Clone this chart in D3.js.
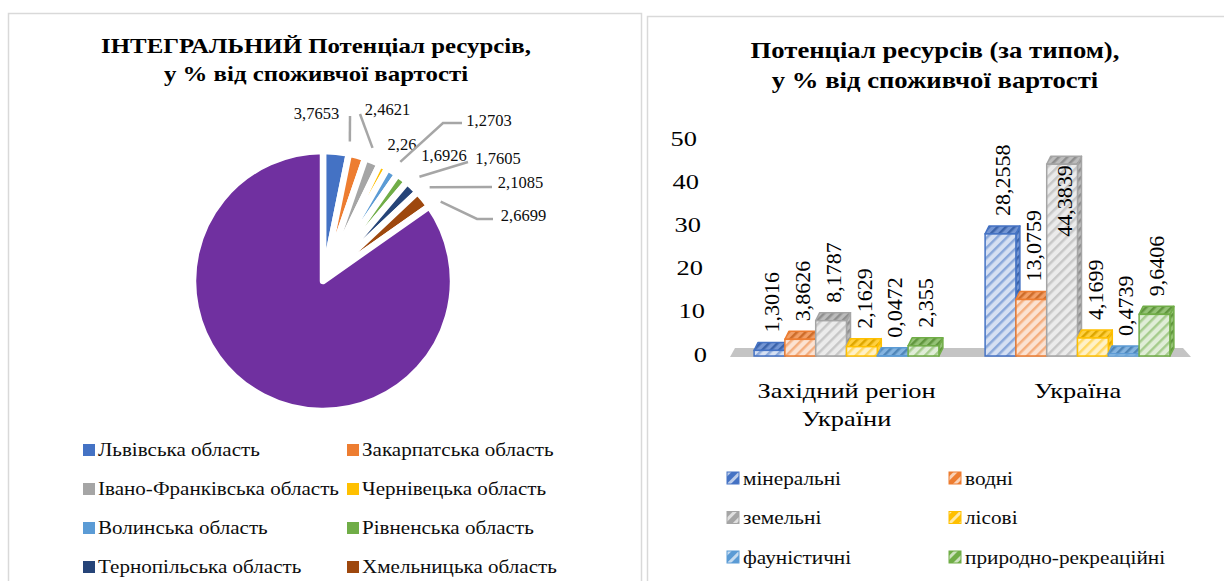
<!DOCTYPE html>
<html><head><meta charset="utf-8">
<script src="https://cdn.jsdelivr.net/npm/d3@7"></script>
<style>body{margin:0;background:#fff} svg{display:block} text{font-family:"Liberation Serif","Times New Roman",serif}</style>
</head><body><svg id="c" width="1224" height="581"></svg>
<script>
// ---------- DATA ----------
const pieTitle = ["ІНТЕГРАЛЬНИЙ Потенціал ресурсів,", "у % від споживчої вартості"];
const pieNames = ["Львівська область","Закарпатська область","Івано-Франківська область","Чернівецька область","Волинська область","Рівненська область","Тернопільська область","Хмельницька область","Україна"];
const pieValues = [3.7653, 2.4621, 2.26, 1.2703, 1.6926, 1.7605, 2.1085, 2.6699, 100];
const pieColors = ["#4472C4","#ED7D31","#A5A5A5","#FFC000","#5B9BD5","#70AD47","#264478","#9E480E","#7030A0"];

const barTitle = ["Потенціал ресурсів (за типом),", "у % від споживчої вартості"];
const barCategories = ["Західний регіон України", "Україна"];
const barSeries = ["мінеральні","водні","земельні","лісові","фауністичні","природно-рекреаційні"];
const westValues = [1.3016, 3.8626, 8.1787, 2.1629, 0.0472, 2.355];
const ukraineValues = [28.2558, 13.0759, 44.3839, 4.1699, 0.4739, 9.6406];
const seriesColors = ["#4472C4","#ED7D31","#A5A5A5","#FFC000","#5B9BD5","#70AD47"];
const yTicks = [0, 10, 20, 30, 40, 50];

// ---------- LAYOUT ----------
const fmt = v => String(v).replace(".", ",");
const svg = d3.select("#c");
const defs = svg.append("defs");

// text with horizontal stretch (reference glyphs are wider than Liberation Serif)
function stext(parent, x, y, str, o){
  const g = parent.append("g").attr("transform",`translate(${x},${y}) scale(${o.k||1},1)`);
  g.append("text").attr("text-anchor",o.anchor||"start").attr("dy","0.35em")
    .attr("font-size",o.size).attr("font-weight",o.weight||null).attr("fill",o.fill||"#000").text(str);
  return g;
}

svg.append("rect").attr("x",8.5).attr("y",13.5).attr("width",633).attr("height",620)
  .attr("fill","none").attr("stroke","#D9D9D9").attr("stroke-width",1.5);
svg.append("rect").attr("x",647.5).attr("y",16.5).attr("width",620).attr("height",620)
  .attr("fill","none").attr("stroke","#D9D9D9").attr("stroke-width",1.5);

pieTitle.forEach((l,i)=>stext(svg, 316, 45+i*28, l, {size:22, k:1.13, anchor:"middle", weight:"bold"}));
barTitle.forEach((l,i)=>stext(svg, 935, 50+i*30, l, {size:23, k:1.16, anchor:"middle", weight:"bold"}));

// ---------- PIE ----------
const cx = 323, cy = 281, R = 130;
const pieData = pieNames.map((n,i)=>({name:n, value:pieValues[i], color:pieColors[i]}));
const arcs = d3.pie().sort(null).value(d=>d.value)(pieData);
const arc = d3.arc().innerRadius(0).outerRadius(R);
const pg = svg.append("g").attr("transform",`translate(${cx},${cy})`);
pg.selectAll("path").data(arcs).join("path")
  .attr("d",arc).attr("fill",d=>d.data.color)
  .attr("stroke","#fff").attr("stroke-width",6.5).attr("stroke-linejoin","round");

// label layout: text centre relative to pie centre, leader bend points
const labelLayout = [
  {p:[-6.5,-168], leader:[[27,-165]]},
  {p:[64.5,-172], leader:[[37,-167]]},
  {p:[79,-137], leader:null},
  {p:[166,-161], leader:[[139,-158],[120,-158]]},
  {p:[121,-126], leader:null},
  {p:[175,-123], leader:[[145,-119]]},
  {p:[197.5,-99], leader:[[169,-94]]},
  {p:[200.5,-66], leader:[[170,-62],[154,-62]]}
];
arcs.slice(0,8).forEach((a,i)=>{
  const L = labelLayout[i];
  if (L.leader){
    const mid = (a.startAngle+a.endAngle)/2 + 0.09;
    const end = [Math.sin(mid)*(R+12), -Math.cos(mid)*(R+12)];
    pg.append("path").attr("d", d3.line()([...L.leader, end]))
      .attr("fill","none").attr("stroke","#A6A6A6").attr("stroke-width",2.5);
  }
  pg.append("text").attr("x",L.p[0]).attr("y",L.p[1]).attr("dy","0.35em")
    .attr("text-anchor","middle").attr("font-size",16.5).attr("fill","#0d0d0d")
    .text(fmt(a.data.value));
});

pieData.slice(0,8).forEach((d,i)=>{
  const col = i%2, row = Math.floor(i/2);
  const x = col ? 347 : 83, y = 450 + row*39;
  svg.append("rect").attr("x",x).attr("y",y-6).attr("width",12).attr("height",12).attr("fill",d.color);
  stext(svg, x+15, y, d.name, {size:18.5, k:1.14, fill:"#0d0d0d"});
});

// ---------- BARS ----------
seriesColors.forEach((c,i)=>{
  const mk = (id,bg,fg,sw,size)=>{
    const p = defs.append("pattern").attr("id",id).attr("patternUnits","userSpaceOnUse")
      .attr("width",size).attr("height",size).attr("patternTransform","rotate(45)");
    p.append("rect").attr("width",size).attr("height",size).attr("fill",bg);
    p.append("rect").attr("width",sw).attr("height",size).attr("fill",fg);
  };
  mk(`front${i}`, d3.interpolateRgb("#fff",c)(0.22), d3.interpolateRgb("#fff",c)(0.62), 2.5, 7);
  mk(`top${i}`, d3.interpolateRgb("#fff",c)(0.75), d3.color(c).darker(0.4).formatHex(), 2.5, 6);
  mk(`leg${i}`, c, d3.interpolateRgb("#fff",c)(0.35), 3, 8);
});

const y = d3.scaleLinear().domain([0,50]).range([356,140]);
const x0 = d3.scaleBand().domain(barCategories).range([731,1193]).paddingInner(0.2).paddingOuter(0.1);
const x1 = d3.scaleBand().domain(barSeries).range([0, x0.bandwidth()]);
const dx = 4, dy = -8, kx = 1.2;

const [r0, r1] = x0.range();
svg.append("polygon")
  .attr("points", [[r0-1,y(0)+1],[r1-2,y(0)+1],[r1-10,y(0)+dy],[r0+4,y(0)+dy]].map(p=>p.join(",")).join(" "))
  .attr("fill","#C4C4C4");

const ax = svg.append("g").attr("transform","translate(707,-2)")
  .call(d3.axisLeft(y).tickValues(yTicks).tickSize(0).tickPadding(0).tickFormat(d3.format("d")));
ax.select(".domain").remove();
ax.attr("font-family",null).attr("font-size",null);
ax.selectAll("text").attr("font-size",22).attr("fill","#000").attr("x",0)
  .attr("transform", d => `translate(${-d*0.2},0) scale(${kx},1)`);

const groups = [westValues, ukraineValues];
barCategories.forEach((cat,ci)=>{
  const g = svg.append("g").attr("transform",`translate(${x0(cat)},0)`);
  groups[ci].forEach((v,i)=>{
    const s = barSeries[i], c = seriesColors[i];
    const x = x1(s), w = x1.bandwidth(), yt = y(v), yb = y(0);
    const poly = pts => pts.map(p=>p.join(",")).join(" ");
    g.append("polygon").attr("points", poly([[x+w,yt],[x+w+dx,yt+dy],[x+w+dx,yb+dy],[x+w,yb]]))
      .attr("fill",`url(#top${i})`).attr("stroke",c).attr("stroke-width",1.5).attr("stroke-linejoin","round");
    g.append("polygon").attr("points", poly([[x,yt],[x+dx,yt+dy],[x+w+dx,yt+dy],[x+w,yt]]))
      .attr("fill",`url(#top${i})`).attr("stroke",c).attr("stroke-width",1.5).attr("stroke-linejoin","round");
    g.append("rect").attr("x",x).attr("y",yt).attr("width",w).attr("height",Math.max(0,yb-yt))
      .attr("fill",`url(#front${i})`).attr("stroke",c).attr("stroke-width",1.5);
  });
  groups[ci].forEach((v,i)=>{
    const s = barSeries[i];
    const xc = x1(s) + x1.bandwidth()/2 + dx/2;
    const t = g.append("text").attr("font-size",22).attr("fill","#000").attr("dy","0.35em").text(fmt(v));
    const len = t.node().getComputedTextLength();
    const start = y(v) + dy - 10;
    let anchor = "start", pos = start;
    if (start - len < 110) { anchor = "end"; pos = y(v) + 1; }
    t.attr("text-anchor",anchor).attr("transform",`translate(${xc},${pos}) rotate(-90)`);
  });
  // wrap category label to the band width
  const words = cat.split(" ");
  const lines = [];
  let cur = "";
  const probe = svg.append("text").attr("font-size",22);
  words.forEach(wd=>{
    const test = cur ? cur+" "+wd : wd;
    probe.text(test);
    if (probe.node().getComputedTextLength()*kx > x0.bandwidth() && cur){ lines.push(cur); cur = wd; }
    else cur = test;
  });
  lines.push(cur);
  probe.remove();
  lines.forEach((l,li)=>stext(svg, x0(cat)+x0.bandwidth()/2, 390+li*28.5, l, {size:22, k:kx, anchor:"middle"}));
});

barSeries.forEach((s,i)=>{
  const col = i%2, row = Math.floor(i/2);
  const x = col ? 949 : 727, yy = 478 + row*39.5;
  svg.append("rect").attr("x",x).attr("y",yy-6).attr("width",12).attr("height",12)
    .attr("fill",`url(#leg${i})`).attr("stroke",seriesColors[i]).attr("stroke-width",1);
  stext(svg, x+16, yy, s, {size:19, k:1.12, fill:"#0d0d0d"});
});
</script></body></html>
